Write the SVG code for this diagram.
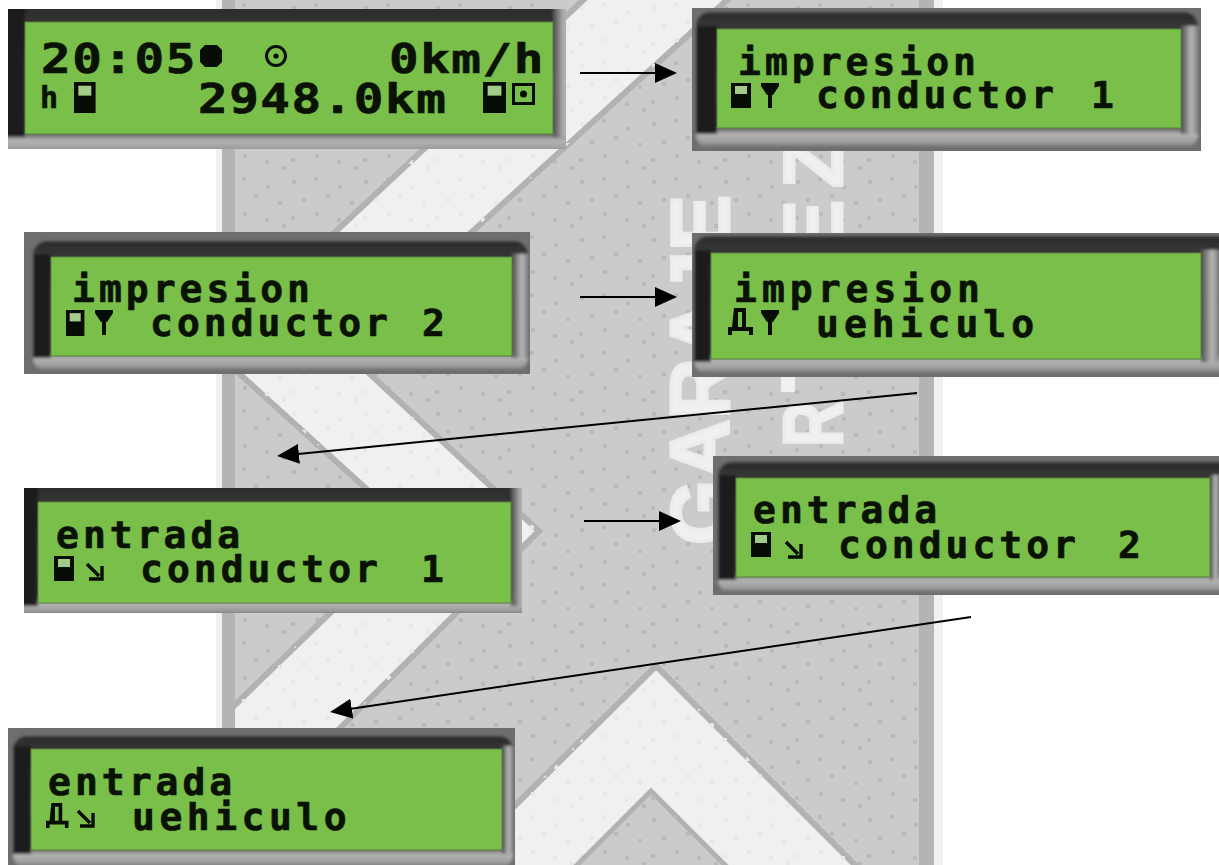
<svg xmlns="http://www.w3.org/2000/svg" width="1219" height="865" viewBox="0 0 1219 865">
<style>
.lcd{font-family:"DejaVu Sans Mono","Liberation Mono",monospace;font-weight:bold;font-size:38px;letter-spacing:4px;fill:#0a1206;stroke:#0a1206;stroke-width:.7}
.big{font-size:41px;letter-spacing:1.300px}
.wm{font-family:"Liberation Sans",Arial,sans-serif;font-weight:bold;font-size:84px;fill:#f0f0f0;stroke:#ececec;stroke-width:3}
.band{fill:#f0f0f0;stroke:#b2b2b2;stroke-width:6}
.green{fill:#79bf4a;stroke:#56833a;stroke-width:1}
.vo{fill:#6e6e6e}
.vs{fill:#353535}
.vb{fill:url(#bz)}
.vr{fill:url(#br)}
.dark{fill:#1f1f1f}
.arrow{stroke:#000;stroke-width:2;fill:none;marker-end:url(#head)}
.ic{fill:#070c04}
</style>
<defs>
<filter id="soft" x="-5%" y="-10%" width="110%" height="120%"><feGaussianBlur stdDeviation="1.800"/></filter>
<linearGradient id="bz" x1="0" y1="0" x2="0" y2="1">
<stop offset="0" stop-color="#2a2a2a"/><stop offset=".13" stop-color="#383838"/><stop offset=".5" stop-color="#555"/><stop offset=".84" stop-color="#4a4a4a"/><stop offset=".9" stop-color="#b4b4b4"/><stop offset=".96" stop-color="#9c9c9c"/><stop offset="1" stop-color="#666"/>
</linearGradient>
<linearGradient id="br" x1="0" y1="0" x2="1" y2="0">
<stop offset="0" stop-color="#4a4a4a"/><stop offset=".6" stop-color="#b8b8b8"/><stop offset="1" stop-color="#808080"/>
</linearGradient>
<pattern id="dots" width="72" height="58" patternUnits="userSpaceOnUse">
<path d="M4 6h4v4h-4zM26 3h4v4h-4zM50 11h4v4h-4zM14 24h4v4h-4zM38 20h4v4h-4zM62 27h4v4h-4zM3 42h4v4h-4zM27 38h4v4h-4zM49 44h4v4h-4zM66 50h4v4h-4z" fill="#bababa"/>
</pattern>
<pattern id="dotsL" width="72" height="58" patternUnits="userSpaceOnUse">
<path d="M4 6h4v4h-4zM26 3h4v4h-4zM50 11h4v4h-4zM14 24h4v4h-4zM38 20h4v4h-4zM62 27h4v4h-4zM3 42h4v4h-4zM27 38h4v4h-4zM49 44h4v4h-4zM66 50h4v4h-4z" fill="#e8e8e8"/>
</pattern>
<clipPath id="inner"><rect x="235" y="0" width="684" height="865"/></clipPath>
<clipPath id="c1"><rect x="8" y="9" width="558" height="140"/></clipPath>
<clipPath id="c2"><rect x="692" y="8" width="509" height="143"/></clipPath>
<clipPath id="c3"><rect x="24" y="232" width="506" height="142"/></clipPath>
<clipPath id="c4"><rect x="692" y="233" width="527" height="144"/></clipPath>
<clipPath id="c5"><rect x="24" y="488" width="498" height="125"/></clipPath>
<clipPath id="c6"><rect x="713" y="456" width="506" height="139"/></clipPath>
<clipPath id="c7"><rect x="8" y="728" width="507" height="137"/></clipPath>
<marker id="head" markerUnits="userSpaceOnUse" markerWidth="24" markerHeight="22" refX="16" refY="10.500" orient="auto">
<path d="M0 0.500L22 10.500L0 20.500z" fill="#000"/>
</marker>
<g id="card"><path class="ic" d="M0 0H20V25H0z"/><path d="M4 3H16V11H4z" fill="#a3cb8a"/></g>
<path id="tri" class="ic" d="M0 0H18V3L12 12H11V25H7V12H6L0 3z"/>
<path id="into" d="M1 1L13 13M16 3V16H3" fill="none" stroke="#070c04" stroke-width="3.400"/>
<path id="truck" class="ic" fill-rule="evenodd" d="M6 0H18V19H25V27H21V23H4V27H0V19H4zM10 4V19H14V4z"/>
</defs>

<g id="background">
<rect x="216" y="0" width="727" height="865" fill="#f0f0f0"/>
<rect x="222" y="0" width="712" height="865" fill="#b4b4b4"/>
<rect x="235" y="0" width="684" height="865" fill="#cbcbcb"/>
<rect x="235" y="0" width="684" height="865" fill="url(#dots)"/>
<g clip-path="url(#inner)">
<path class="band" d="M594 -10L211 348L414 532L100 835L100 880L187 880L539 531L343 349L738 -10z"/>
<path d="M594 -10L211 348L414 532L100 835L100 880L187 880L539 531L343 349L738 -10z" fill="url(#dotsL)"/>
<path class="band" d="M656 666L440 880H870z"/>
<path d="M656 666L440 880H870z" fill="url(#dotsL)"/>
<path d="M651 791L570 872H732z" fill="#cbcbcb" stroke="#b2b2b2" stroke-width="5"/>
<path d="M651 791L570 872H732z" fill="url(#dots)"/>
</g>
<text class="wm" transform="translate(729,545) rotate(-90)">GARAJE</text>
<text class="wm" transform="translate(842,188) rotate(-90)">Z</text>
<text class="wm" transform="translate(842,256) rotate(-90)">E</text>
<text class="wm" transform="translate(842,447) rotate(-90) scale(.76,1)">R</text>
<rect x="781" y="376" width="14" height="16" fill="#f0f0f0"/>
</g>

<g id="connectors">
<line class="arrow" x1="580" y1="73" x2="671" y2="73"/>
<line class="arrow" x1="580" y1="297" x2="671" y2="297"/>
<line class="arrow" x1="917" y1="393" x2="283" y2="455.400"/>
<line class="arrow" x1="584" y1="521" x2="675" y2="521"/>
<line class="arrow" x1="971" y1="617" x2="336" y2="711.100"/>
</g>

<g id="display-status">
<g clip-path="url(#c1)"><g filter="url(#soft)">
<rect class="vs" x="2" y="3" width="570" height="150"/>
<rect class="vb" x="2" y="9" width="570" height="146"/>
<rect class="dark" x="2" y="3" width="23" height="134"/>
<rect class="vr" x="553" y="3" width="19" height="134"/>
</g></g>
<rect class="green" x="25" y="22" width="528" height="112"/>
<text class="lcd big" transform="translate(41,73) scale(1.2,1)">20:05</text>
<path class="ic" d="M205 45H217L222 50V62L217 67H205L200 62V50z"/>
<circle cx="276" cy="56" r="9.500" fill="none" stroke="#070c04" stroke-width="3"/>
<circle cx="276" cy="56" r="2.600" class="ic"/>
<text class="lcd big" transform="translate(389,73) scale(1.2,1)">0km/h</text>
<text class="lcd" style="font-size:30px" x="40" y="108">h</text>
<use href="#card" transform="translate(74,82) scale(1.080,1.240)"/>
<text class="lcd big" transform="translate(198,113) scale(1.2,1)" >2948.0km</text>
<use href="#card" transform="translate(483,82) scale(1.150,1.240)"/>
<path class="ic" fill-rule="evenodd" d="M512 83H535V105H512zM515 86V102H532V86z"/>
<circle cx="523.500" cy="94" r="3.500" class="ic"/>
</g>

<g id="display-impresion-conductor-1">
<g clip-path="url(#c2)"><g filter="url(#soft)">
<rect class="vo" x="686" y="2" width="521" height="155"/>
<rect class="vb" x="696" y="12" width="502" height="136" rx="14"/>
<rect class="dark" x="696" y="26" width="21" height="108"/>
<rect class="vr" x="1181" y="26" width="17" height="108"/>
</g></g>
<rect class="green" x="717" y="29" width="464" height="99"/>
<text class="lcd" x="738" y="75">impresion</text>
<use href="#card" x="731" y="83"/>
<use href="#tri" x="761" y="83"/>
<text class="lcd" x="816" y="108">conductor<tspan x="1091">1</tspan></text>
</g>

<g id="display-impresion-conductor-2">
<g clip-path="url(#c3)"><g filter="url(#soft)">
<rect class="vo" x="18" y="226" width="518" height="154"/>
<rect class="vb" x="33" y="241" width="495" height="130" rx="14"/>
<rect class="dark" x="33" y="254" width="18" height="104"/>
<rect class="vr" x="512" y="254" width="16" height="104"/>
</g></g>
<rect class="green" x="51" y="257" width="461" height="99"/>
<text class="lcd" x="72" y="302">impresion</text>
<use href="#card" transform="translate(66,310) scale(.92,1.040)"/>
<use href="#tri" x="95" y="310"/>
<text class="lcd" x="150" y="336">conductor<tspan x="422">2</tspan></text>
</g>

<g id="display-impresion-vehiculo">
<g clip-path="url(#c4)"><g filter="url(#soft)">
<rect class="vo" x="686" y="227" width="540" height="156"/>
<rect class="vb" x="694" y="236" width="540" height="138" rx="14"/>
<rect class="dark" x="694" y="250" width="17" height="112"/>
<rect class="vr" x="1201" y="250" width="18" height="112"/>
</g></g>
<rect class="green" x="711" y="253" width="490" height="106"/>
<text class="lcd" style="letter-spacing:5px" x="734" y="302">impresion</text>
<use href="#truck" x="728" y="308"/>
<use href="#tri" x="761" y="310"/>
<text class="lcd" style="letter-spacing:5px" x="816" y="337">uehiculo</text>
</g>

<g id="display-entrada-conductor-1">
<g clip-path="url(#c5)"><g filter="url(#soft)">
<rect class="vs" x="18" y="482" width="510" height="134"/>
<rect class="vb" x="18" y="488" width="510" height="128"/>
<rect class="dark" x="18" y="482" width="20" height="124"/>
<rect class="vr" x="511" y="482" width="17" height="124"/>
</g></g>
<rect class="green" x="38" y="502" width="473" height="101"/>
<text class="lcd" x="56" y="548">entrada</text>
<use href="#card" x="54" y="556"/>
<use href="#into" x="86" y="563"/>
<text class="lcd" x="140" y="582">conductor<tspan x="421">1</tspan></text>
</g>

<g id="display-entrada-conductor-2">
<g clip-path="url(#c6)"><g filter="url(#soft)">
<rect class="vo" x="707" y="450" width="520" height="151"/>
<rect class="vb" x="718" y="462" width="520" height="131" rx="14"/>
<rect class="dark" x="718" y="475" width="18" height="105"/>
<rect class="vr" x="1210" y="475" width="9" height="105"/>
</g></g>
<rect class="green" x="736" y="478" width="474" height="99"/>
<text class="lcd" x="753" y="523">entrada</text>
<use href="#card" x="751" y="532"/>
<use href="#into" x="785" y="541"/>
<text class="lcd" x="838" y="558">conductor<tspan x="1118">2</tspan></text>
</g>

<g id="display-entrada-vehiculo">
<g clip-path="url(#c7)"><g filter="url(#soft)">
<rect class="vo" x="2" y="722" width="520" height="160"/>
<rect class="vb" x="13" y="736" width="500" height="132" rx="14"/>
<rect class="dark" x="13" y="746" width="18" height="108"/>
<rect class="vr" x="502" y="746" width="11" height="108"/>
</g></g>
<rect class="green" x="31" y="749" width="471" height="101"/>
<text class="lcd" x="48" y="795">entrada</text>
<use href="#truck" transform="translate(46,803) scale(.9,.93)"/>
<use href="#into" x="77" y="810"/>
<text class="lcd" x="132" y="830" style="letter-spacing:4.500px">uehiculo</text>
</g>
</svg>
